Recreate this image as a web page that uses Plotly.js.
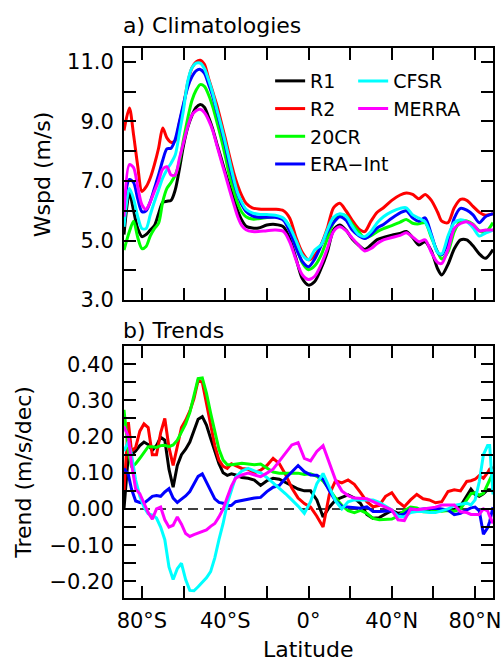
<!DOCTYPE html>
<html>
<head>
<meta charset="utf-8">
<script src="https://cdn.plot.ly/plotly-3.0.1.min.js"></script>
<style>
  html, body { margin: 0; padding: 0; background: #ffffff; }
  #chart { width: 503px; height: 661px; }
</style>
</head>
<body>
<div id="chart"></div>
<script>
// ---- a) zonal-mean wind speed climatologies (m/s) ----
const latClim = [-88.6, -86, -84, -82, -80, -78, -76, -74, -72, -70,
  -68, -66, -64, -62, -60, -58, -56, -54, -52, -50,
  -48, -46, -44, -42, -40, -38, -36, -34, -32, -30,
  -27, -24, -20, -16, -12, -9, -6, -3, 0, 3,
  6, 9, 12, 15, 18, 21, 24, 27, 30, 33,
  36, 40, 44, 47, 50, 53, 56, 59, 62, 64,
  67, 70, 73, 76, 79, 82, 85, 88.6];

const r1Clim = [5.2, 6.6, 6.0, 5.4, 5.13, 5.2, 5.35, 5.5, 5.9, 6.28,
  6.32, 6.35, 6.7, 7.4, 8.2, 8.8, 9.2, 9.47, 9.57, 9.48,
  9.15, 8.75, 8.25, 7.78, 7.3, 6.85, 6.42, 6.0, 5.68, 5.48,
  5.42, 5.42, 5.52, 5.54, 5.46, 5.05, 4.4, 3.72, 3.5, 3.62,
  4.05, 4.6, 5.35, 5.52, 5.35, 5.05, 4.85, 4.7, 4.85, 5.03,
  5.1, 5.18, 5.24, 5.3, 5.1, 4.85, 4.96, 4.65, 4.05, 3.84,
  4.2, 4.72, 5.02, 5.02, 4.82, 4.55, 4.4, 4.7];

const r2Clim = [8.7, 9.45, 8.55, 7.5, 6.65, 6.8, 7.1, 7.55, 8.1, 8.78,
  8.45, 8.3, 8.35, 8.95, 9.55, 10.3, 10.8, 11.0, 11.06, 10.92,
  10.45, 10.0, 9.55, 9.0, 8.45, 7.85, 7.3, 6.85, 6.5, 6.25,
  6.1, 6.06, 6.05, 6.05, 6.0, 5.75, 5.1, 4.6, 4.35, 4.5,
  4.85, 5.4, 6.1, 6.25, 6.0, 5.68, 5.4, 5.3, 5.65, 5.95,
  6.1, 6.35, 6.53, 6.6, 6.55, 6.4, 6.55, 6.35, 5.95, 5.65,
  5.6, 6.1, 6.38, 6.35, 6.15, 5.95, 5.85, 5.9];

const c20crClim = [4.68, 5.3, 5.65, 5.1, 4.73, 4.8, 5.15, 5.4, 5.58, 6.3,
  6.75, 6.95, 7.2, 7.65, 8.4, 9.1, 9.7, 10.05, 10.24, 10.18,
  9.9, 9.5, 8.99, 8.45, 7.85, 7.2, 6.7, 6.25, 5.95, 5.8,
  5.72, 5.73, 5.77, 5.8, 5.72, 5.45, 4.85, 4.25, 4.02, 4.15,
  4.5, 5.05, 5.6, 5.85, 5.83, 5.55, 5.3, 5.08, 5.16, 5.3,
  5.4, 5.5, 5.62, 5.71, 5.58, 5.56, 5.6, 5.1, 4.62, 4.38,
  4.62, 5.3, 5.65, 5.66, 5.55, 5.33, 5.28, 5.6];

const eraClim = [6.19, 7.05, 6.95, 6.4, 5.97, 6.0, 6.3, 6.75, 7.2, 7.7,
  8.08, 8.1, 8.4, 9.0, 9.6, 10.15, 10.5, 10.7, 10.75, 10.62,
  10.25, 9.85, 9.32, 8.78, 8.2, 7.55, 7.0, 6.55, 6.2, 5.98,
  5.83, 5.78, 5.78, 5.78, 5.68, 5.3, 4.75, 4.3, 4.12, 4.38,
  4.82, 5.28, 5.6, 5.8, 5.68, 5.35, 5.17, 5.07, 5.2, 5.42,
  5.54, 5.75, 5.93, 6.0, 5.76, 5.65, 5.76, 5.2, 4.6, 4.52,
  4.95, 5.75, 6.08, 6.02, 5.86, 5.6, 5.8, 5.9];

const cfsrClim = [5.46, 6.75, 6.4, 5.8, 5.4, 5.4, 5.86, 6.3, 6.7, 7.1,
  7.38, 7.6, 7.87, 8.6, 9.4, 10.35, 10.8, 10.96, 10.96, 10.78,
  10.4, 9.95, 9.4, 8.88, 8.31, 7.7, 7.1, 6.6, 6.28, 6.05,
  5.93, 5.88, 5.87, 5.85, 5.75, 5.45, 5.0, 4.52, 4.35, 4.68,
  4.85, 5.35, 5.78, 5.9, 5.82, 5.48, 5.2, 5.13, 5.3, 5.6,
  5.8, 5.97, 6.08, 6.1, 5.86, 5.75, 5.63, 5.15, 4.6, 4.55,
  5.15, 5.6, 5.7, 5.63, 5.43, 5.15, 5.25, 5.35];

const merraClim = [5.8, 7.55, 7.45, 6.8, 6.2, 6.05, 6.3, 6.65, 7.0, 7.4,
  7.48, 7.2, 7.2, 7.75, 8.3, 8.82, 9.21, 9.36, 9.41, 9.3,
  9.05, 8.7, 8.2, 7.7, 7.22, 6.72, 6.25, 5.8, 5.5, 5.36,
  5.3, 5.3, 5.33, 5.35, 5.3, 4.95, 4.35, 3.85, 3.69, 3.8,
  4.18, 4.72, 5.3, 5.46, 5.33, 5.08, 4.85, 4.65, 4.73, 4.9,
  5.02, 5.1, 5.17, 5.26, 5.12, 4.96, 5.02, 4.6, 4.26, 4.23,
  4.7, 5.4, 5.57, 5.63, 5.53, 5.32, 5.35, 5.35];

// ---- b) zonal-mean wind speed trends (m/s/dec) ----
const latTrend = [-88.6, -86.5, -85, -83, -81, -79, -77, -75, -73, -71,
  -69, -67, -65, -63, -61, -59, -57, -55, -53, -51,
  -49, -47, -45, -43, -41, -39, -37, -35, -32, -29,
  -26, -23, -20, -17, -14, -11, -8, -5, -2, 1,
  4, 7, 10, 13, 16, 19, 22, 25, 28, 31,
  34, 37, 40, 43, 46, 49, 52, 55, 58, 61,
  64, 67, 70, 73, 76, 78, 80, 82, 84, 86,
  87, 88.6];

const r1Trend = [0.0, 0.15, 0.15, 0.16, 0.175, 0.185, 0.178, 0.162, 0.175, 0.198,
  0.19, 0.11, 0.06, 0.12, 0.15, 0.165, 0.185, 0.215, 0.248, 0.255,
  0.232, 0.195, 0.16, 0.125, 0.1, 0.093, 0.097, 0.094, 0.087, 0.085,
  0.08, 0.065, 0.078, 0.085, 0.082, 0.074, 0.064, 0.055, 0.05, 0.05,
  0.025, -0.022, 0.005, 0.025, 0.033, 0.039, 0.03, 0.015, -0.015, -0.026,
  -0.024, -0.014, -0.004, -0.012, -0.01, 0.0, 0.0, -0.003, -0.004, -0.005,
  -0.003, -0.003, -0.002, 0.008, 0.035, 0.055, 0.04, 0.035, 0.042, 0.053,
  0.053, 0.05];

const r2Trend = [0.05, 0.24, 0.16, 0.17, 0.215, 0.235, 0.225, 0.15, 0.15, 0.21,
  0.25, 0.17, 0.12, 0.17, 0.225, 0.245, 0.27, 0.305, 0.355, 0.35,
  0.295, 0.235, 0.175, 0.135, 0.118, 0.112, 0.125, 0.12, 0.112, 0.11,
  0.1, 0.107, 0.12, 0.14, 0.125, 0.095, 0.058, 0.03, 0.015, 0.005,
  -0.02, -0.05, 0.04, 0.078, 0.072, 0.08, 0.068, 0.045, 0.02, 0.006,
  0.01, 0.035, 0.045, 0.02, 0.006, 0.025, 0.04, 0.028, 0.025, 0.017,
  0.02, 0.048, 0.053, 0.05, 0.076, 0.078, 0.082, 0.092, 0.085, 0.1,
  0.11, 0.115];

const c20crTrend = [0.274, 0.16, 0.115, 0.125, 0.14, 0.155, 0.172, 0.172, 0.17, 0.175,
  0.176, 0.172, 0.177, 0.19, 0.212, 0.235, 0.266, 0.31, 0.36, 0.362,
  0.32, 0.265, 0.215, 0.165, 0.135, 0.122, 0.122, 0.124, 0.126, 0.124,
  0.122, 0.124, 0.112, 0.102, 0.099, 0.099, 0.099, 0.099, 0.095, 0.097,
  0.09, 0.077, 0.055, 0.03, 0.01, -0.005, -0.01, -0.004, -0.012, -0.026,
  -0.03, -0.03, -0.028, -0.02, -0.005, 0.005, 0.003, -0.008, -0.008, -0.004,
  -0.006, -0.004, -0.006, 0.0, 0.025, 0.042, 0.045, 0.038, 0.043, 0.065,
  0.08, 0.099];

const eraTrend = [0.112, 0.095, 0.055, 0.022, 0.018, 0.016, 0.025, 0.035, 0.037, 0.035,
  0.047, 0.056, 0.03, 0.018, 0.027, 0.036, 0.048, 0.068, 0.09, 0.097,
  0.075, 0.05, 0.028, 0.018, 0.016, 0.008, 0.01, 0.02, 0.024, 0.028,
  0.03, 0.032, 0.048, 0.06, 0.065, 0.085, 0.104, 0.12, 0.103, 0.094,
  0.093, 0.082, 0.05, 0.022, 0.007, 0.006, 0.005, 0.002, 0.006, -0.007,
  -0.007, -0.005, -0.005, -0.018, -0.014, 0.0, -0.002, 0.0, 0.002, 0.002,
  0.0, -0.003, -0.016, -0.012, -0.003, 0.003, 0.005, -0.005, -0.07, -0.052,
  -0.035, 0.005];

const cfsrTrend = [0.16, 0.186, 0.15, 0.08, 0.035, 0.005, -0.013, -0.017, -0.025, -0.05,
  -0.085, -0.16, -0.195, -0.165, -0.15, -0.195, -0.225, -0.226, -0.215, -0.203,
  -0.19, -0.173, -0.135, -0.085, -0.04, 0.015, 0.055, 0.088, 0.105, 0.112,
  0.105, 0.1, 0.087, 0.072, 0.058, 0.042, 0.025, 0.008, -0.012, 0.02,
  0.07, 0.098, 0.06, 0.022, 0.0, 0.02, 0.025, 0.025, 0.025, 0.025,
  0.018, 0.008, -0.003, -0.02, -0.022, -0.01, -0.007, -0.007, -0.01, -0.01,
  -0.004, 0.0, 0.01, 0.012, 0.016, 0.011, 0.025, 0.075, 0.15, 0.175,
  0.175, 0.04];

const merraTrend = [0.228, 0.2, 0.125, 0.055, 0.042, 0.018, -0.01, -0.028, 0.0, 0.005,
  -0.03, -0.05, -0.045, -0.022, -0.042, -0.068, -0.076, -0.071, -0.066, -0.063,
  -0.058, -0.048, -0.04, -0.022, 0.0, 0.032, 0.063, 0.085, 0.094, 0.099,
  0.094, 0.089, 0.099, 0.11, 0.132, 0.155, 0.177, 0.183, 0.14, 0.133,
  0.159, 0.175, 0.13, 0.08, 0.05, 0.037, 0.03, 0.03, 0.028, 0.02,
  0.012, 0.004, -0.003, -0.03, -0.032, 0.0, -0.002, 0.0, 0.002, 0.005,
  0.011, 0.011, 0.011, -0.008, -0.01, -0.015, -0.015, -0.015, 0.0, -0.005,
  -0.02, -0.04];

// ---- series names, colours and tick labels ----
const names = ['R1', 'R2', '20CR', 'ERA\u2212Int', 'CFSR', 'MERRA'];
const colors = ['#000000', '#ff0000', '#00ff00', '#0000ff', '#00ffff', '#ff00ff'];
const legendOf = ['legend', 'legend', 'legend', 'legend', 'legend2', 'legend2'];
const climSeries = [r1Clim, r2Clim, c20crClim, eraClim, cfsrClim, merraClim];
const trendSeries = [r1Trend, r2Trend, c20crTrend, eraTrend, cfsrTrend, merraTrend];
const latTickVals = [-80, -40, 0, 40, 80];
const latTickText = ['80\u00b0S', '40\u00b0S', '0\u00b0', '40\u00b0N', '80\u00b0N'];

const FONT = 'DejaVu Sans';
const LW = 3;

const traces = [];
climSeries.forEach((ys, i) => {
  traces.push({
    type: 'scatter', mode: 'lines', x: latClim, y: ys,
    name: names[i], legend: legendOf[i],
    line: { color: colors[i], width: LW, shape: 'spline', smoothing: 0.8 },
    xaxis: 'x', yaxis: 'y', hoverinfo: 'skip'
  });
});
trendSeries.forEach((ys, i) => {
  traces.push({
    type: 'scatter', mode: 'lines', x: latTrend, y: ys,
    name: names[i], showlegend: false,
    line: { color: colors[i], width: LW },
    xaxis: 'x2', yaxis: 'y2', hoverinfo: 'skip'
  });
});

const tickStyle = {
  ticks: 'inside', ticklen: 12, tickwidth: 2, tickcolor: '#000',
  showline: true, linewidth: 2, linecolor: '#000', mirror: 'ticks',
  showgrid: false, zeroline: false, automargin: false
};
const minorStyle = { ticks: 'inside', ticklen: 12, tickwidth: 2, tickcolor: '#000', showgrid: false };

// free-standing text: panel titles and axis titles (paper coordinates)
const textFont = { family: FONT, size: 22, color: '#000' };
const labels = [
  { text: 'a) Climatologies', x: 0, y: 1.0418, xanchor: 'left', xshift: -3 },
  { text: 'b) Trends', x: 0, y: 0.486, xanchor: 'left', xshift: -3 },
  { text: 'Wspd (m/s)', x: -0.2217, y: 0.7709, textangle: -90 },
  { text: 'Trend (m/s/dec)', x: -0.2715, y: 0.2291, textangle: -90 },
  { text: 'Latitude', x: 0.5, y: -0.0945 }
];

const layout = {
  width: 503, height: 661,
  paper_bgcolor: '#ffffff', plot_bgcolor: '#ffffff',
  margin: { l: 124, r: 10, t: 48, b: 63, autoexpand: false },
  font: { family: FONT, size: 21, color: '#000' },
  xaxis: Object.assign({
    domain: [0, 1], anchor: 'y', range: [-88.6, 88.6],
    tickmode: 'array', tickvals: latTickVals, ticktext: latTickText,
    showticklabels: false,
    minor: Object.assign({ dtick: 20, tick0: 0 }, minorStyle)
  }, tickStyle),
  yaxis: Object.assign({
    domain: [0.5418, 1], anchor: 'x', range: [3, 11.47],
    tickmode: 'linear', tick0: 3, dtick: 2, tickformat: '.1f',
    ticklabelstandoff: 4,
    minor: Object.assign({ dtick: 1, tick0: 3 }, minorStyle)
  }, tickStyle),
  xaxis2: Object.assign({
    domain: [0, 1], anchor: 'y2', range: [-88.6, 88.6],
    tickmode: 'array', tickvals: latTickVals, ticktext: latTickText,
    ticklabelstandoff: 3,
    minor: Object.assign({ dtick: 20, tick0: 0 }, minorStyle)
  }, tickStyle),
  yaxis2: Object.assign({
    domain: [0, 0.4587], anchor: 'x2', range: [-0.246, 0.451],
    tickmode: 'linear', tick0: 0, dtick: 0.1, tickformat: '.2f',
    ticklabelstandoff: 4,
    minor: Object.assign({ dtick: 0.05, tick0: 0 }, minorStyle)
  }, tickStyle),
  showlegend: true,
  legend: {
    x: 0.396, y: 0.9745, xanchor: 'left', yanchor: 'top',
    bgcolor: 'rgba(0,0,0,0)', borderwidth: 0,
    font: { family: FONT, size: 19 }, tracegroupgap: 0
  },
  legend2: {
    x: 0.621, y: 0.9745, xanchor: 'left', yanchor: 'top',
    bgcolor: 'rgba(0,0,0,0)', borderwidth: 0,
    font: { family: FONT, size: 19 }, tracegroupgap: 0
  },
  annotations: labels.map(a => Object.assign({
    xref: 'paper', yref: 'paper', xanchor: 'center', yanchor: 'middle',
    showarrow: false, font: textFont
  }, a)),
  shapes: [
    { type: 'line', xref: 'x2 domain', yref: 'y2', x0: 0, x1: 1, y0: 0, y1: 0,
      line: { color: '#000', width: 1.5, dash: '10px,6px' }, layer: 'below' }
  ]
};

Plotly.newPlot('chart', traces, layout, { staticPlot: true, displayModeBar: false });
</script>
</body>
</html>
